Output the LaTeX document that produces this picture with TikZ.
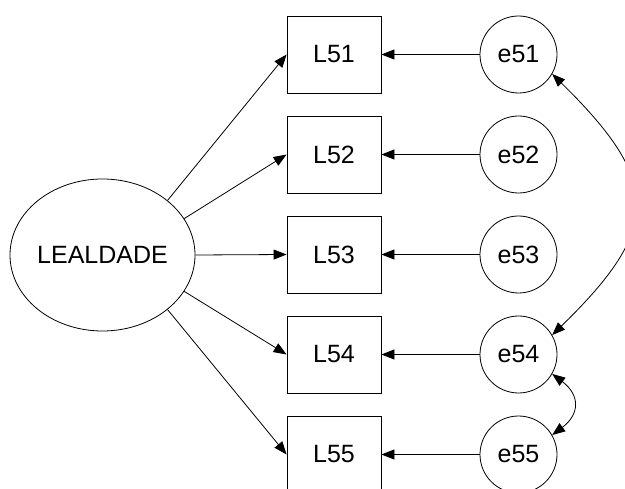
\documentclass[tikz,border=0pt]{standalone}
\usepackage{fontspec}
\setmainfont{Liberation Sans}
\usetikzlibrary{arrows.meta,shapes.geometric}
\begin{document}
\begin{tikzpicture}[x=1pt,y=1pt,
  lbl/.style={font=\fontsize{25}{25}\selectfont},
  obs/.style={lbl, draw, rectangle, minimum width=94pt, minimum height=77pt, inner sep=0pt, line width=0.8pt},
  err/.style={lbl, draw, circle, minimum size=77pt, inner sep=0pt, line width=0.8pt},
  lat/.style={lbl, draw, ellipse, minimum width=185pt, minimum height=152pt, inner sep=0pt, line width=0.8pt},
  arr/.style={-{Triangle[length=13pt,width=10pt]}, line width=0.8pt},
  biarr/.style={{Triangle[length=13pt,width=10pt]}-{Triangle[length=13pt,width=10pt]}, line width=0.8pt}]
\useasboundingbox (0,0) rectangle (625,-489);
\clip (0,0) rectangle (625,-489);
\node[lat] (lat) at (102.5,-255) {LEALDADE};
\foreach \i/\y in {1/54.5,2/154.5,3/254.5,4/354.5,5/454.5}{
  \node[obs] (L5\i) at (334,-\y) {L5\i};
  \node[err] (e5\i) at (518.5,-\y) {e5\i};
  \draw[arr] (e5\i) -- (L5\i);
}
\draw[arr] (lat.40) -- (L51.west);
\draw[arr] (lat.24) -- (L52.west);
\draw[arr] (lat.0) -- (L53.west);
\draw[arr] (lat.-24) -- (L54.west);
\draw[arr] (lat.-40) -- (L55.west);
\draw[biarr] (e51.-30) .. controls (662,-182) and (662,-228) .. (e54.30);
\draw[biarr] (e54.-30) .. controls (580,-395) and (580,-414) .. (e55.30);
\end{tikzpicture}
\end{document}
